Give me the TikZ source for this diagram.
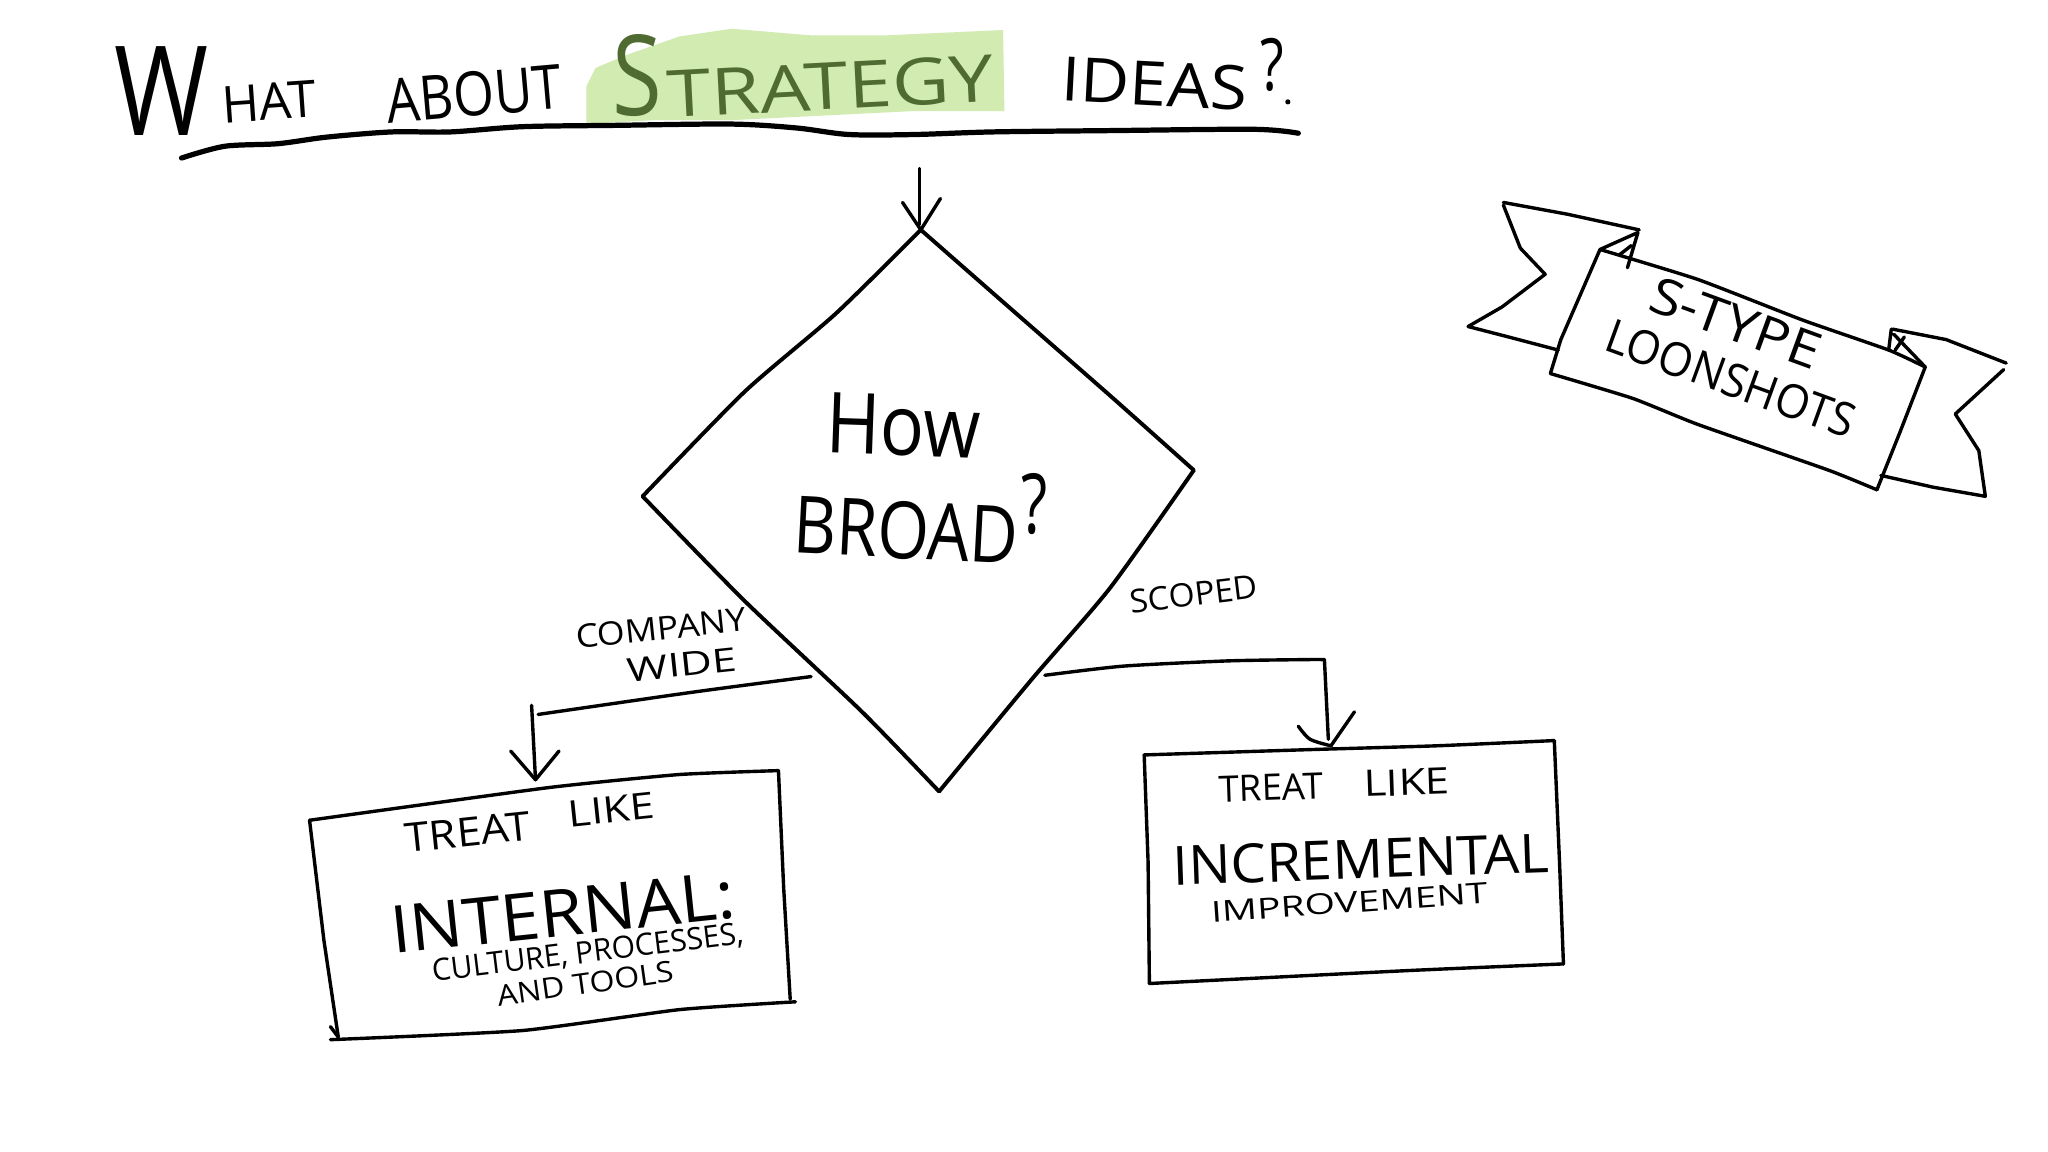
\documentclass[tikz,border=0pt]{standalone}
\usepackage{fontspec}
\usepackage{graphicx}
\setmainfont{Open Sans}
\newcommand{\hw}[3]{\resizebox{#1pt}{#2pt}{#3}}
\tikzset{
  x=1pt,y=-1pt,
  pen/.style={line width=3pt,line cap=round,line join=round,black},
  thin pen/.style={line width=2.6pt,line cap=round,line join=round,black},
  word/.style={inner sep=0pt,outer sep=0pt,anchor=center,black},
  greenword/.style={word,text=strategytext},
}
\definecolor{strategytext}{HTML}{506B32}
\definecolor{marker}{HTML}{D1EBB0}
\begin{document}
\begin{tikzpicture}
\useasboundingbox (0,0) rectangle (1568,882);
\fill[white] (0,0) rectangle (1568,882);

% highlight
\fill[marker,line join=round] (449,66) -- (456,52) -- (480,42) -- (520,28) -- (560,22) -- (620,27) -- (680,27) -- (768,23) -- (769,85) -- (700,85) -- (640,88) -- (560,92) -- (500,92) -- (449,95) -- cycle;

% title
\node[word] (t1) at (124,70) {\hw{72}{68}{W}};
\node[word,rotate=4] (t2) at (206,78) {\hw{72}{28}{HAT}};
\node[word,rotate=5] (t3) at (363,72) {\hw{134}{34}{ABOUT}};
\node[greenword] (t4) at (488,58) {\hw{38}{62}{S}};
\node[greenword,rotate=3] (t5) at (636,66) {\hw{250}{36}{TRATEGY}};
\node[word,rotate=-3] (t6) at (884,64) {\hw{142}{34}{IDEAS}};
\node[word] (t7) at (974,50) {\hw{18}{40}{?}};
\fill[black] (986,78) circle (2pt);
\draw[line width=4pt,line cap=round,black] plot[smooth,tension=0.5] coordinates {(139,121) (172,112) (213,110) (250,105) (300,101) (345,101) (400,97) (470,96) (560,95) (610,98) (650,103) (700,103) (760,101) (850,100) (960,99) (994,102)};

% diamond
\coordinate (dT) at (705,176);
\coordinate (dR) at (914,360);
\coordinate (dB) at (719,606);
\coordinate (dL) at (492,380);
\coordinate (dIn) at (704,129);
\draw[pen] plot[smooth,tension=0.4] coordinates {(dT) (770,233) (850,303) (dR)};
\draw[pen] plot[smooth,tension=0.4] coordinates {(dR) (850,450) (790,520) (dB)};
\draw[pen] plot[smooth,tension=0.4] coordinates {(dB) (660,545) (570,460) (dL)};
\draw[pen] plot[smooth,tension=0.4] coordinates {(dL) (570,300) (640,240) (dT)};
\draw[thin pen] (dIn) -- (704,172);
\draw[thin pen] (691,155) -- (dT) (720,152) -- (dT);

\node[word,rotate=-2] (how) at (692,326) {\hw{118}{46}{How}};
\node[word,rotate=-3] (broad) at (694,406) {\hw{172}{44}{BROAD}};
\node[word] (bq) at (792,386) {\hw{20}{46}{?}};

% left branch
\coordinate (lStart) at (621,518);
\coordinate (lMid) at (412,547);
\coordinate (lTop) at (407,540);
\coordinate (lTip) at (410,597);
\draw[thin pen] plot[smooth] coordinates {(lStart) (530,530) (lMid)};
\draw[thin pen] (lTop) -- (lTip);
\draw[thin pen] (391,575) -- (lTip) -- (428,575);
\node[word,rotate=6] (cw1) at (506,481) {\hw{131}{18}{COMPANY}};
\node[word,rotate=6] (cw2) at (522,509) {\hw{84}{18}{WIDE}};

% left box
\coordinate (a1) at (237,628);
\coordinate (a2) at (596,590);
\coordinate (a3) at (605,765);
\coordinate (a4) at (259,794);
\draw[thin pen] plot[smooth,tension=0.3] coordinates {(a1) (420,603) (520,593) (a2)};
\draw[thin pen] (a2) -- (600,680) -- (a3);
\draw[thin pen] plot[smooth,tension=0.3] coordinates {(609,767) (520,773) (400,789) (253,796)};
\draw[thin pen] (a1) -- (248,720) -- (a4);
\draw[thin pen] (253,786) -- (a4);
\node[word,rotate=6] (l1) at (358,637) {\hw{96}{22}{TREAT}};
\node[word,rotate=6] (l2) at (468,620) {\hw{66}{20}{LIKE}};
\node[word,rotate=6] (l3) at (431,699) {\hw{265}{36}{INTERNAL:}};
\node[word,rotate=7] (l4) at (450,730) {\hw{240}{17}{CULTURE, PROCESSES,}};
\node[word,rotate=8] (l5) at (448,753) {\hw{136}{16}{AND TOOLS}};

% right branch
\coordinate (rStart) at (800,517);
\coordinate (rCorner) at (1014,505);
\coordinate (rTip) at (1019,571);
\draw[thin pen] plot[smooth,tension=0.4] coordinates {(rStart) (860,510) (940,506) (1000,505) (rCorner)};
\draw[thin pen] (rCorner) -- (1017,566);
\draw[thin pen] plot[smooth] coordinates {(994,556) (1003,566) (rTip)};
\draw[thin pen] (rTip) -- (1037,545);
\node[word,rotate=7] (sc) at (914,455) {\hw{98}{18}{SCOPED}};

% right box
\coordinate (b1) at (876,578);
\coordinate (b2) at (1190,567);
\coordinate (b3) at (1197,738);
\coordinate (b4) at (880,753);
\draw[thin pen] plot[smooth,tension=0.3] coordinates {(b1) (1000,574) (1100,571) (b2)};
\draw[thin pen] (b2) -- (1194,660) -- (b3);
\draw[thin pen] plot[smooth,tension=0.3] coordinates {(b3) (1080,743) (b4)};
\draw[thin pen] (b1) -- (879,660) -- (b4);
\node[word,rotate=2] (r1) at (973,603) {\hw{80}{20}{TREAT}};
\node[word,rotate=2] (r2) at (1077,599) {\hw{66}{20}{LIKE}};
\node[word,rotate=2] (r3) at (1042,658) {\hw{288}{30}{INCREMENTAL}};
\node[word,rotate=4] (r4) at (1033,691) {\hw{212}{16}{IMPROVEMENT}};

% banner
\coordinate (m1) at (1225,191);
\coordinate (m2) at (1474,281);
\coordinate (m3) at (1437,375);
\coordinate (m4) at (1187,286);
\draw[thin pen] plot[smooth,tension=0.3] coordinates {(m1) (1300,214) (1380,245) (1446,268) (m2)};
\draw[thin pen] (m2) -- (1455,330) -- (m3);
\draw[thin pen] plot[smooth,tension=0.3] coordinates {(m3) (1400,360) (1300,325) (1250,305) (m4)};
\draw[thin pen] (m4) -- (1195,260) -- (m1);
\draw[thin pen] (1151,155) -- (1200,164) -- (1255,176);
\draw[thin pen] (1151,157) -- (1164,190) -- (1183,210) -- (1150,235) -- (1124,250) -- (1155,258) -- (1193,268);
\draw[thin pen] (m1) -- (1254,178) -- (1246,205);
\draw[thin pen] (1240,195) -- (1249,188);
\draw[thin pen] (1449,252) -- (1490,260) -- (1536,278);
\draw[thin pen] (1534,283) -- (1497,317) -- (1515,345) -- (1520,380) -- (1480,373) -- (1440,364);
\draw[thin pen] (1448,252) -- (1446,268) (1450,256) -- (m2);
\draw[thin pen] (1451,268) -- (1458,258);
\node[word,rotate=-20] (s1) at (1329,247) {\hw{136}{28}{S-TYPE}};
\node[word,rotate=-20] (s2) at (1325,290) {\hw{200}{26}{LOONSHOTS}};
\end{tikzpicture}
\end{document}
